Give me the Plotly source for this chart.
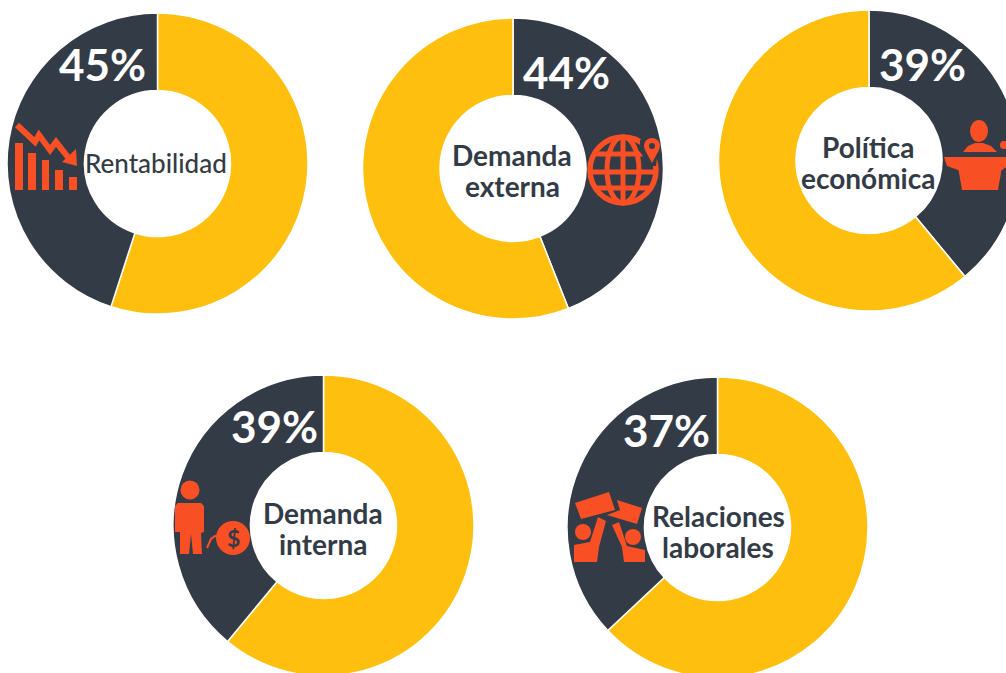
import plotly.graph_objects as go

# ---- data ----
labels = ["Rentabilidad", "Demanda<br>externa", "Política<br>económica", "Demanda<br>interna", "Relaciones<br>laborales"]
shares = [45, 44, 39, 39, 37]
percent_labels = ["45%", "44%", "39%", "39%", "37%"]

# ---- layout helpers ----
W, H = 1040, 700   # canvas is larger than the window: the rightmost / lowest rings get cropped, as in the reference
DARK, YEL, ORG = "#333C46", "#FFBF0F", "#F94F24"
R = 150.5
centers = [(157.5, 163.5), (513, 168.5), (869, 160.5), (323.5, 525.5), (717.5, 527.5)]
dark_first = [False, True, True, False, False]
pct_pos = [(102, 64), (566, 72), (922, 64), (274, 426), (666, 430)]
lab_pos = [(156, 163), (512, 155), (868, 147), (323, 513), (718, 516)]
lab_size = [26, 28, 28, 28, 28]
lab_weight = [500, 700, 700, 700, 700]
LINE_GAP = 31

fx = lambda x: x / W
fy = lambda y: 1 - y / H

fig = go.Figure()
for i, (name, s) in enumerate(zip(labels, shares)):
    cx, cy = centers[i]
    vals = [s, 100 - s] if dark_first[i] else [100 - s, s]
    cols = [DARK, YEL] if dark_first[i] else [YEL, DARK]
    fig.add_trace(go.Pie(
        values=vals, labels=[name.replace("<br>", " "), "Resto"], sort=False, direction="clockwise",
        rotation=0, hole=0.485, textinfo="none", hoverinfo="label+percent", showlegend=False,
        marker=dict(colors=cols, line=dict(color="white", width=1.5)),
        domain=dict(x=[fx(cx - R), fx(cx + R)], y=[fy(cy + R), fy(cy - R)]),
    ))
    px, py = pct_pos[i]
    fig.add_annotation(x=fx(px), y=fy(py), xref="paper", yref="paper", text=percent_labels[i],
                       xanchor="center", yanchor="middle", showarrow=False,
                       font=dict(family="Lato", size=44, color="white", weight=700))
    lx, ly = lab_pos[i]
    for k, line in enumerate(name.split("<br>")):
        fig.add_annotation(x=fx(lx), y=fy(ly + k * LINE_GAP), xref="paper", yref="paper", text=line,
                           xanchor="center", yanchor="middle", showarrow=False,
                           font=dict(family="Lato", size=lab_size[i], color=DARK, weight=lab_weight[i]))

shapes = []
def poly(pts, close=True, fill=ORG, lw=0, line=ORG):
    d = "M " + " L ".join(f"{fx(x):.5f},{fy(y):.5f}" for x, y in pts) + (" Z" if close else "")
    shapes.append(dict(type="path", xref="paper", yref="paper", path=d,
                       fillcolor=fill if close else "rgba(0,0,0,0)",
                       line=dict(color=line, width=lw)))
def ell(x, y, rx, ry=None, fill=ORG, lw=0, line=ORG):
    ry = rx if ry is None else ry
    shapes.append(dict(type="circle", xref="paper", yref="paper", x0=fx(x - rx), x1=fx(x + rx),
                       y0=fy(y + ry), y1=fy(y - ry), fillcolor=fill, line=dict(color=line, width=lw)))
def rect(x0, y0, x1, y1):
    poly([(x0, y0), (x1, y0), (x1, y1), (x0, y1)])

# icon 1: falling bars
for x0, x1, y0 in [(15, 23, 143), (28, 36, 153), (42, 49, 160), (55, 63, 170), (69, 77, 177)]:
    rect(x0, y0, x1, 190)
poly([(17, 125), (35, 142), (39, 135), (50, 150), (56, 142), (68, 157)], close=False, lw=6)
poly([(76, 149), (77, 166), (62, 162)])

# icon 2: globe and pin
ell(623, 170, 33, fill="rgba(0,0,0,0)", lw=5.5)
ell(623, 170, 16, 33, fill="rgba(0,0,0,0)", lw=5)
poly([(623, 137), (623, 203)], close=False, lw=5)
poly([(596, 154), (650, 154)], close=False, lw=5)
poly([(590, 172), (656, 172)], close=False, lw=5)
poly([(596, 188), (650, 188)], close=False, lw=5)
poly([(640, 140), (648, 135), (656, 135), (658, 150), (656, 166), (650, 166), (640, 152)], fill=DARK)
ell(652, 146, 8)
poly([(645, 150), (652, 163), (659, 150)])
ell(652, 146, 3, fill=DARK)

# icon 3: speaker at a lectern
ell(979, 131, 9, 11)
poly([(963, 152), (968, 146), (975, 143), (983, 143), (991, 146), (997, 152)])
ell(1004, 145, 4)
poly([(944, 157), (1008, 157), (1008, 166), (1002, 170), (958, 170), (947, 166)])
poly([(958, 167), (1002, 167), (998, 190), (962, 190)])

# icon 4: person chained to a coin
ell(190, 490, 9.5)
poly([(178, 503), (201, 503), (204, 506), (204, 532), (201, 533), (202, 554), (193, 554), (191, 534),
      (189, 554), (180, 554), (180, 532), (175, 532), (175, 506)])
ell(233, 538, 17)
poly([(207, 548), (211, 539), (215, 536), (220, 538)], close=False, lw=2)
fig.add_annotation(x=fx(233), y=fy(538), xref="paper", yref="paper", text="<b>$</b>", showarrow=False,
                   xanchor="center", yanchor="middle", font=dict(family="Lato", size=23, color=DARK))

# icon 5: protesters with placards
poly([(575, 503), (609, 492), (615, 510), (581, 519)])
poly([(617, 500), (642, 508), (637, 524), (607, 515), (620, 510)])
ell(583, 532, 8)
ell(633, 537, 8)
poly([(574, 562), (574, 545), (590, 542), (598, 517), (606, 521), (599, 547), (597, 562)])
poly([(645, 562), (624, 562), (622, 547), (612, 525), (619, 522), (627, 546), (645, 550)])

fig.update_layout(width=W, height=H, margin=dict(l=0, r=0, t=0, b=0), autosize=False,
                  paper_bgcolor="white", plot_bgcolor="white", shapes=shapes, showlegend=False)

fig.write_html("out.html", config=dict(displayModeBar=False),
               post_script="document.body.style.margin='0';document.body.style.overflow='hidden';document.documentElement.style.overflow='hidden';")
